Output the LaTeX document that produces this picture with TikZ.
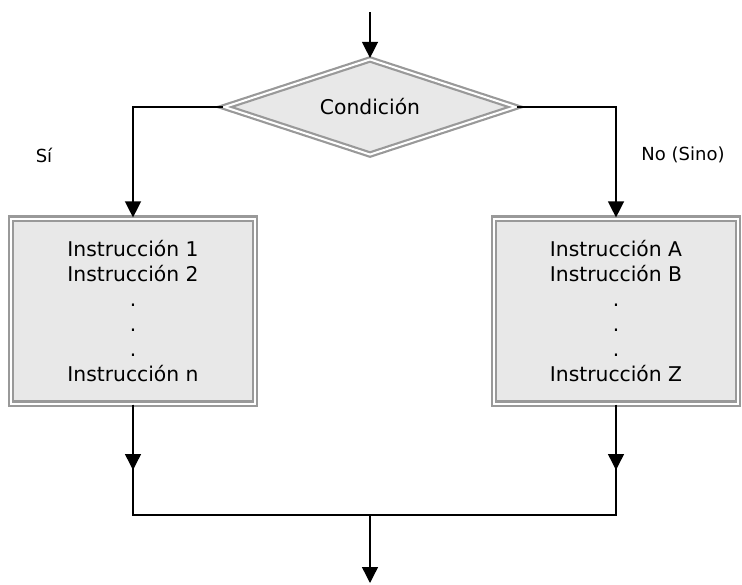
\documentclass[tikz,border=0pt]{standalone}
\usepackage{fontspec}
\setmainfont{DejaVu Sans}
\usetikzlibrary{shapes.geometric}
\usetikzlibrary{arrows.meta}
\definecolor{rahmen}{HTML}{999999}
\definecolor{relleno}{HTML}{E8E8E8}

\begin{document}
\begin{tikzpicture}[x=1pt,y=1pt,font=\fontsize{20.3}{25}\selectfont] %% tikz
	\tikzstyle{doble}=[draw=rahmen,line width=2.2pt,double=white,double distance=2pt,fill=relleno];
	\tikzstyle{cond}=[doble,diamond,aspect=3,minimum width=292pt,minimum height=96pt,inner sep=0pt];
	\tikzstyle{bloque}=[doble,rectangle,minimum width=244pt,minimum height=185pt,align=center,inner sep=0pt];
	\tikzstyle{etiqueta}=[font=\fontsize{18}{22}\selectfont];
	\tikzstyle{flecha}=[line width=1.4pt,-{Triangle[length=16pt,width=16pt]}];
	\tikzstyle{linea}=[line width=1.4pt];
	\useasboundingbox (0,0) rectangle (742,-584);
	%% nodes
	\node[cond] (cond) at (370,-107) {Condición};
	\node[bloque] (bloqueSi) at (133,-311) {Instrucción 1\\Instrucción 2\\.\\.\\.\\Instrucción n};
	\node[bloque] (bloqueNo) at (616,-311) {Instrucción A\\Instrucción B\\.\\.\\.\\Instrucción Z};
	%% labels
	\node[etiqueta] (si) at (44,-155) {Sí};
	\node[etiqueta] (no) at (683,-155) {No (Sino)};
	%% helper points
	\coordinate (entrada) at (370,-12);
	\coordinate (medioSi) at (133,-470);
	\coordinate (medioNo) at (616,-470);
	\coordinate (juntaSi) at (133,-515);
	\coordinate (juntaNo) at (616,-515);
	\coordinate (junta) at (370,-515);
	\coordinate (salida) at (370,-583);
	%% connectors
	\draw[flecha] (entrada) -- (cond.north);
	\draw[flecha] (cond.west) -| (bloqueSi.north);
	\draw[flecha] (cond.east) -| (bloqueNo.north);
	\draw[linea] (bloqueSi.south) -- (juntaSi) -- (juntaNo) -- (bloqueNo.south);
	\draw[flecha] (bloqueSi.south) -- (medioSi);
	\draw[flecha] (bloqueNo.south) -- (medioNo);
	\draw[flecha] (junta) -- (salida);
\end{tikzpicture}
\end{document}
